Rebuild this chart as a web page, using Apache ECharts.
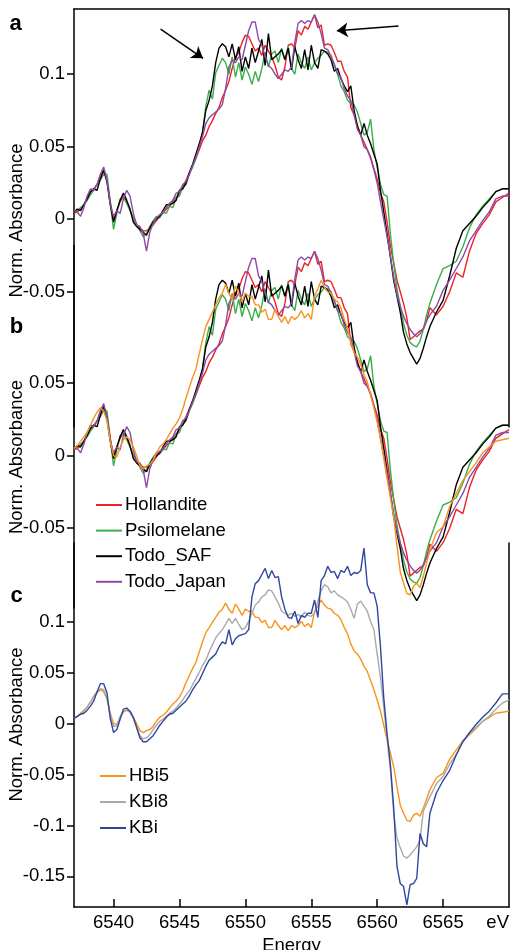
<!DOCTYPE html>
<html><head><meta charset="utf-8">
<script src="https://cdn.jsdelivr.net/npm/echarts@6/dist/echarts.min.js"></script>
<style>html,body{margin:0;padding:0;background:#fff}#c{width:511px;height:950px}</style>
</head><body><div id="c"></div>
<script>
const energy = [6537,6537.25,6537.5,6537.75,6538,6538.25,6538.5,6538.75,6539,6539.25,
6539.5,6539.75,6540,6540.25,6540.5,6540.75,6541,6541.25,6541.5,6541.75,
6542,6542.25,6542.5,6542.75,6543,6543.25,6543.5,6543.75,6544,6544.25,
6544.5,6544.75,6545,6545.25,6545.5,6545.75,6546,6546.25,6546.5,6546.75,
6547,6547.25,6547.5,6547.75,6548,6548.25,6548.5,6548.75,6549,6549.25,
6549.5,6549.75,6550,6550.25,6550.5,6550.75,6551,6551.25,6551.5,6551.75,
6552,6552.25,6552.5,6552.75,6553,6553.25,6553.5,6553.75,6554,6554.25,
6554.5,6554.75,6555,6555.25,6555.5,6555.75,6556,6556.25,6556.5,6556.75,
6557,6557.25,6557.5,6557.75,6558,6558.25,6558.5,6558.75,6559,6559.25,
6559.5,6559.75,6560,6560.25,6560.5,6560.75,6561,6561.25,6561.5,6561.75,
6562,6562.25,6562.5,6562.75,6563,6563.25,6563.5,6563.75,6564,
6564.5,6565,6565.5,6566,6566.5,6567,6567.5,6568,6568.5,6569,6569.5,6570];

const hollandite = [0.004,0.005,0.007,0.010,0.015,0.018,0.021,0.024,0.030,0.033,
0.027,0.012,0.000,0.006,0.012,0.016,0.012,0.006,0.000,-0.004,
-0.006,-0.008,-0.008,-0.006,-0.004,-0.001,0.002,0.004,0.007,0.009,
0.012,0.015,0.018,0.022,0.027,0.032,0.037,0.042,0.048,0.054,
0.058,0.064,0.068,0.073,0.077,0.084,0.089,0.095,0.104,0.112,
0.115,0.122,0.127,0.126,0.121,0.116,0.118,0.113,0.120,0.116,
0.112,0.106,0.098,0.096,0.105,0.120,0.121,0.118,0.130,0.127,
0.133,0.131,0.136,0.141,0.132,0.134,0.120,0.121,0.120,0.115,
0.109,0.109,0.102,0.098,0.077,0.072,0.065,0.058,0.053,0.048,
0.043,0.035,0.028,0.018,0.012,-0.002,-0.018,-0.030,-0.042,-0.050,
-0.058,-0.068,-0.083,-0.081,-0.079,-0.077,-0.076,-0.070,-0.061,
-0.066,-0.060,-0.050,-0.037,-0.040,-0.022,-0.010,-0.003,0.003,0.012,0.015,0.018];

const psilomelane = [0.005,0.006,0.008,0.010,0.013,0.017,0.020,0.024,0.027,0.031,
0.031,0.012,-0.007,0.004,0.014,0.015,0.011,0.006,0.001,-0.003,
-0.008,-0.012,-0.010,-0.005,-0.001,0.002,0.001,0.005,0.004,0.009,
0.008,0.015,0.016,0.022,0.024,0.031,0.036,0.042,0.050,0.060,
0.078,0.089,0.083,0.101,0.106,0.111,0.108,0.100,0.112,0.098,
0.108,0.096,0.105,0.100,0.093,0.102,0.095,0.104,0.115,0.105,
0.114,0.116,0.108,0.118,0.110,0.119,0.104,0.100,0.114,0.108,
0.104,0.112,0.103,0.108,0.111,0.113,0.116,0.115,0.113,0.106,
0.100,0.092,0.088,0.082,0.080,0.079,0.074,0.066,0.058,0.060,
0.069,0.048,0.036,0.024,0.017,0.016,-0.010,-0.030,-0.048,-0.060,
-0.072,-0.080,-0.085,-0.087,-0.088,-0.084,-0.076,-0.066,-0.058,
-0.045,-0.034,-0.032,-0.029,-0.019,-0.006,0.003,0.009,0.014,0.019,0.021,0.021];

const todoSAF = [0.005,0.007,0.006,0.010,0.014,0.019,0.021,0.020,0.028,0.034,
0.026,0.010,-0.002,0.006,0.013,0.018,0.013,0.007,-0.002,-0.005,
-0.007,-0.009,-0.011,-0.006,-0.002,0.000,0.002,0.006,0.010,0.010,
0.011,0.013,0.020,0.021,0.025,0.032,0.038,0.045,0.052,0.060,
0.075,0.082,0.092,0.108,0.118,0.121,0.119,0.112,0.121,0.110,
0.119,0.102,0.112,0.104,0.118,0.108,0.116,0.124,0.106,0.128,
0.110,0.112,0.114,0.117,0.110,0.118,0.103,0.119,0.110,0.104,
0.117,0.103,0.120,0.108,0.104,0.117,0.116,0.114,0.110,0.102,
0.104,0.097,0.092,0.088,0.092,0.075,0.064,0.058,0.066,0.058,
0.052,0.045,0.038,0.020,0.005,-0.010,-0.026,-0.042,-0.053,-0.064,
-0.078,-0.086,-0.092,-0.096,-0.100,-0.096,-0.089,-0.081,-0.074,
-0.064,-0.056,-0.039,-0.020,-0.008,-0.003,0.002,0.008,0.013,0.019,0.021,0.021];

const todoJapan = [0.006,0.005,0.002,0.008,0.016,0.021,0.020,0.024,0.031,0.036,
0.027,0.010,0.002,0.006,0.004,0.014,0.020,0.016,0.004,-0.004,
-0.005,-0.010,-0.022,-0.009,-0.003,0.001,0.003,0.005,0.008,0.011,
0.013,0.018,0.019,0.024,0.026,0.031,0.037,0.043,0.050,0.057,
0.066,0.070,0.072,0.074,0.076,0.079,0.090,0.105,0.110,0.108,
0.112,0.110,0.120,0.130,0.136,0.136,0.124,0.120,0.112,0.106,
0.104,0.100,0.097,0.100,0.103,0.102,0.105,0.122,0.135,0.137,
0.135,0.137,0.136,0.141,0.136,0.128,0.118,0.117,0.112,0.107,
0.100,0.098,0.090,0.085,0.082,0.072,0.062,0.058,0.050,0.048,
0.042,0.034,0.025,0.012,0.000,-0.012,-0.025,-0.040,-0.052,-0.060,
-0.067,-0.072,-0.076,-0.079,-0.081,-0.079,-0.075,-0.070,-0.066,
-0.060,-0.049,-0.042,-0.034,-0.026,-0.015,-0.008,-0.001,0.005,0.014,0.016,0.016];

const hbi5 = [0.005,0.007,0.010,0.013,0.016,0.021,0.026,0.030,0.033,0.031,
0.024,0.010,0.000,-0.001,0.006,0.011,0.013,0.011,0.006,0.000,
-0.007,-0.009,-0.007,-0.006,-0.003,0.002,0.006,0.008,0.011,0.015,
0.019,0.022,0.026,0.032,0.040,0.047,0.054,0.060,0.070,0.080,
0.089,0.094,0.099,0.104,0.109,0.112,0.118,0.112,0.108,0.117,
0.112,0.106,0.112,0.110,0.110,0.104,0.104,0.099,0.101,0.094,
0.094,0.101,0.096,0.092,0.096,0.091,0.096,0.094,0.096,0.100,
0.095,0.098,0.094,0.110,0.115,0.121,0.116,0.113,0.112,0.108,
0.106,0.102,0.094,0.088,0.078,0.071,0.068,0.063,0.056,0.051,
0.042,0.033,0.023,0.012,-0.002,-0.016,-0.029,-0.042,-0.062,-0.080,
-0.088,-0.095,-0.096,-0.090,-0.088,-0.091,-0.083,-0.074,-0.065,
-0.053,-0.049,-0.035,-0.026,-0.017,-0.011,-0.005,0.002,0.006,0.010,0.011,0.012];

const kbi8 = [0.005,0.007,0.009,0.012,0.016,0.021,0.027,0.031,0.034,0.033,
0.025,0.008,-0.003,-0.002,0.007,0.012,0.013,0.011,0.005,-0.003,
-0.012,-0.015,-0.014,-0.011,-0.006,-0.002,0.002,0.004,0.007,0.010,
0.012,0.015,0.019,0.023,0.028,0.032,0.038,0.044,0.050,0.057,
0.062,0.070,0.077,0.084,0.088,0.092,0.097,0.103,0.098,0.103,
0.097,0.092,0.094,0.100,0.108,0.116,0.119,0.124,0.126,0.131,
0.130,0.124,0.118,0.110,0.108,0.106,0.108,0.105,0.107,0.104,
0.109,0.106,0.105,0.108,0.120,0.130,0.136,0.134,0.128,0.130,
0.126,0.124,0.122,0.119,0.112,0.103,0.117,0.120,0.115,0.110,
0.100,0.092,0.068,0.045,0.016,-0.015,-0.045,-0.088,-0.112,-0.122,
-0.130,-0.132,-0.129,-0.125,-0.121,-0.114,-0.086,-0.079,-0.072,
-0.059,-0.052,-0.040,-0.030,-0.018,-0.010,-0.004,0.002,0.007,0.014,0.020,0.023];

const kbi = [0.005,0.007,0.009,0.010,0.013,0.017,0.022,0.031,0.039,0.039,
0.030,0.005,-0.009,-0.006,0.004,0.014,0.015,0.012,0.006,-0.004,
-0.014,-0.018,-0.018,-0.015,-0.012,-0.007,-0.002,0.002,0.006,0.009,
0.010,0.013,0.016,0.019,0.022,0.027,0.033,0.038,0.042,0.049,
0.056,0.062,0.065,0.068,0.075,0.080,0.078,0.092,0.077,0.083,
0.086,0.087,0.088,0.092,0.124,0.137,0.140,0.146,0.152,0.142,
0.150,0.143,0.144,0.124,0.112,0.104,0.103,0.110,0.098,0.106,
0.104,0.108,0.108,0.121,0.104,0.140,0.145,0.154,0.148,0.149,
0.142,0.150,0.148,0.154,0.145,0.148,0.147,0.150,0.172,0.136,
0.128,0.128,0.115,0.075,0.025,-0.010,-0.040,-0.082,-0.140,-0.157,
-0.160,-0.178,-0.158,-0.157,-0.152,-0.108,-0.118,-0.121,-0.088,
-0.068,-0.056,-0.046,-0.031,-0.018,-0.009,-0.001,0.006,0.012,0.020,0.029,0.029];

const xTicks = [6540, 6545, 6550, 6555, 6560, 6565];
const xLabels = [6540, 6545, 6550, 6555, 6560, 6565, 6570];
const yTicksA = [-0.05, 0, 0.05, 0.1];
const yTicksB = [-0.05, 0, 0.05];
const yTicksC = [-0.15, -0.1, -0.05, 0, 0.05, 0.1];
const legendB = ['Hollandite', 'Psilomelane', 'Todo_SAF', 'Todo_Japan'];
const legendC = ['HBi5', 'KBi8', 'KBi'];
const arrows = [
  [[6543.57, 0.1312], [6546.79, 0.1110]],
  [[6561.62, 0.1333], [6556.94, 0.1300]]
];

const FONT = '"Liberation Sans", Arial, Helvetica, sans-serif';
const COL = {Hollandite:'#ed2024', Psilomelane:'#3aae49', Todo_SAF:'#000000', Todo_Japan:'#8c4aa8',
  HBi5:'#f7941d', KBi8:'#a9a9a9', KBi:'#2e46a0'};
const AX = {lineStyle:{color:'#000', width:1.5}};
const fmt = v => String(Math.round(v * 100) / 100);

function pairs(ys) { return energy.map((e, i) => [e, ys[i]]); }
function line(name, ys, xi, yi, extra) {
  return Object.assign({
    type:'line', name, data:pairs(ys), xAxisIndex:xi, yAxisIndex:yi,
    symbol:'none', showSymbol:false, clip:false, silent:true,
    lineStyle:{color:COL[name], width:1.4}, itemStyle:{color:COL[name]},
    emphasis:{disabled:true}
  }, extra || {});
}
function yAx(grid, min, max, ticks) {
  return {type:'value', gridIndex:grid, min, max, splitLine:{show:false},
    axisLine:{show:true, onZero:false, ...AX},
    axisTick:{show:true, inside:false, length:7, customValues:ticks, lineStyle:{color:'#000', width:1.5}},
    axisLabel:{show:true, customValues:ticks, formatter:fmt, fontSize:18.5, color:'#000', fontFamily:FONT, margin:9}};
}
function frameY(grid, min, max) {
  return {type:'value', gridIndex:grid, min, max, position:'right', splitLine:{show:false},
    axisLine:{show:true, onZero:false, ...AX}, axisTick:{show:false}, axisLabel:{show:false}};
}

const arrowData = arrows.map(a => [{coord:a[0]}, {coord:a[1]}]);

const series = [
  line('Hollandite', hollandite, 0, 0),
  line('Psilomelane', psilomelane, 0, 0),
  line('Todo_SAF', todoSAF, 0, 0),
  line('Todo_Japan', todoJapan, 0, 0, {markLine:{silent:true, animation:false, symbol:['none','arrow'], symbolSize:11,
      label:{show:false}, emphasis:{disabled:true}, lineStyle:{color:'#000', width:1.5, type:'solid'}, data:arrowData}}),
  line('Hollandite', hollandite, 1, 2),
  line('Psilomelane', psilomelane, 1, 2),
  line('Todo_SAF', todoSAF, 1, 2),
  line('Todo_Japan', todoJapan, 1, 2),
  line('HBi5', hbi5, 1, 2),
  line('HBi5', hbi5, 2, 3),
  line('KBi8', kbi8, 2, 3),
  line('KBi', kbi, 2, 3)
];

const legendStyle = {orient:'vertical', itemWidth:26, itemHeight:2, icon:'rect', padding:0, selectedMode:false,
  textStyle:{fontSize:18.5, color:'#000', fontFamily:FONT, lineHeight:20, padding:[0,0,0,-2]}};

function txt(text, x, y, size, weight, rot) {
  return {type:'text', x, y, rotation:rot || 0, silent:true,
    style:{text, fill:'#000', fontSize:size, fontWeight:weight, fontFamily:FONT,
      align:'center', verticalAlign:'middle', textAlign:'center', textVerticalAlign:'middle'}};
}

const chart = echarts.init(document.getElementById('c'), null, {renderer:'canvas'});
chart.setOption({
  animation:false,
  backgroundColor:'#fff',
  grid:[
    {left:74, right:2, top:9, height:418, outerBoundsMode:'none', containLabel:false},
    {left:74, right:2, top:245.45, height:362.5, outerBoundsMode:'none', containLabel:false},
    {left:74, right:2, top:543, height:364, outerBoundsMode:'none', containLabel:false}
  ],
  xAxis:[
    {type:'value', gridIndex:0, min:6537, max:6570, position:'top', splitLine:{show:false},
      axisLine:{show:true, onZero:false, ...AX}, axisTick:{show:false}, axisLabel:{show:false}},
    {type:'value', gridIndex:1, min:6537, max:6570, show:false},
    {type:'value', gridIndex:2, min:6537, max:6570, position:'bottom', splitLine:{show:false},
      axisLine:{show:true, onZero:false, ...AX},
      axisTick:{show:true, inside:true, length:8, customValues:xTicks, lineStyle:{color:'#000', width:1.5}},
      axisLabel:{show:true, customValues:xLabels, formatter:v => v === 6570 ? 'eV' : String(v),
        fontSize:18.5, color:'#000', fontFamily:FONT, margin:6, alignMaxLabel:'right'},
      name:'Energy', nameLocation:'middle', nameGap:29,
      nameTextStyle:{fontSize:18.5, color:'#000', fontFamily:FONT}}
  ],
  yAxis:[
    yAx(0, -0.1433, 0.145, yTicksA),
    frameY(0, -0.1433, 0.145),
    yAx(1, -0.105, 0.145, yTicksB),
    yAx(2, -0.18, 0.1769, yTicksC),
    frameY(2, -0.18, 0.1769)
  ],
  legend:[
    Object.assign({data:legendB, left:96, top:495, itemGap:5.6}, legendStyle),
    Object.assign({data:legendC, left:100, top:766, itemGap:6}, legendStyle)
  ],
  series,
  graphic:[
    txt('a', 15.5, 24, 22, 'bold'),
    txt('b', 16.5, 327, 22, 'bold'),
    txt('c', 16.5, 596, 22, 'bold'),
    txt('Norm. Absorbance', 17, 220.5, 18.5, 'normal', Math.PI / 2),
    txt('Norm. Absorbance', 17, 457, 18.5, 'normal', Math.PI / 2),
    txt('Norm. Absorbance', 17, 724.5, 18.5, 'normal', Math.PI / 2)
  ]
});
</script></body></html>
